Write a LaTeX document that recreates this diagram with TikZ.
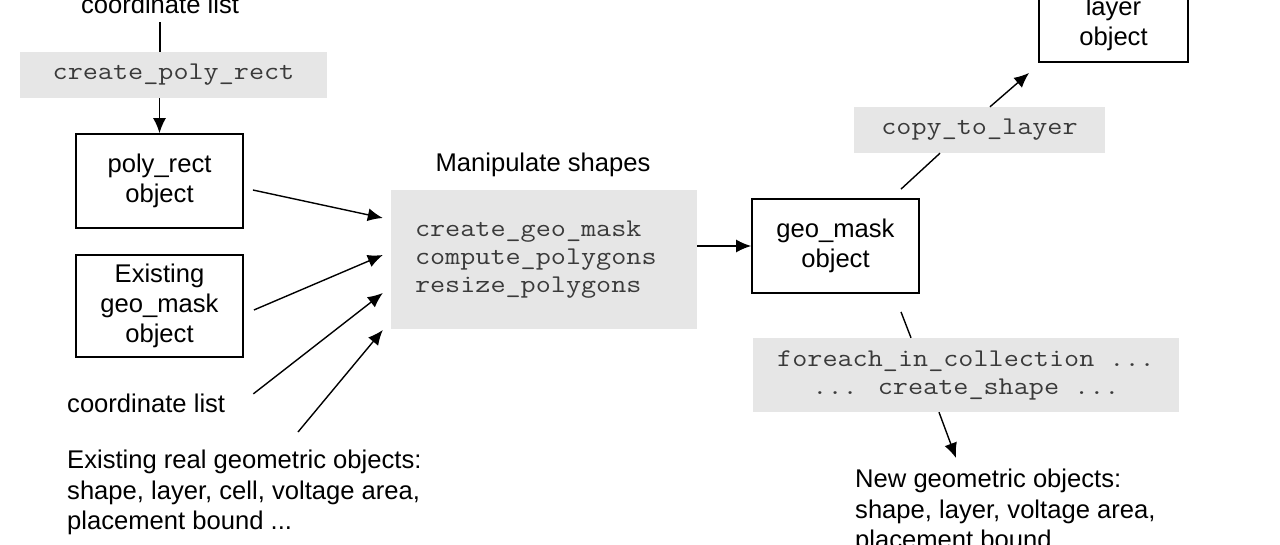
\documentclass[tikz,border=0pt]{standalone}
\usepackage{fontspec}
\usepackage{graphicx}
\setmainfont{Liberation Sans}
\usetikzlibrary{arrows.meta,calc}
\definecolor{boxgray}{HTML}{E6E6E6}
\definecolor{codegray}{HTML}{3A3A3A}
\newcommand{\cdl}[1]{\scalebox{1.15}[1]{#1}}
\tikzset{
 obj/.style={draw=black, line width=1.8pt, align=center, font=\fontsize{25.6}{30}\selectfont, inner sep=0pt},
 code/.style={fill=boxgray, text=codegray, font=\fontsize{25.5}{28}\selectfont\ttfamily, inner sep=0pt},
 lbl/.style={font=\fontsize{25.6}{30.5}\selectfont, inner sep=0pt, align=left},
 conn/.style={line width=1.4pt},
 arr/.style={conn, -{Latex[length=15pt,width=13pt]}},
}
\begin{document}
\begin{tikzpicture}[x=1pt,y=-1pt]
\useasboundingbox (0,0) rectangle (1280,544);
\clip (0,0) rectangle (1280,544);
\fill[white] (0,0) rectangle (1280,544);

\node[lbl, anchor=base] (cl1) at (160,13) {coordinate list};
\node[code, minimum width=307pt, minimum height=46pt] (cpr) at (173.5,75) {\cdl{create\_poly\_rect}};
\node[obj, minimum width=167pt, minimum height=94pt] (pr) at (159.5,181) {poly\_rect\\object};
\node[obj, minimum width=167pt, minimum height=102pt] (ge) at (159.5,306) {Existing\\geo\_mask\\object};
\node[lbl, anchor=base west] (cl2) at (67,412) {coordinate list};
\node[lbl, anchor=north west] (ex) at (67,450) {Existing real geometric objects:\\shape, layer, cell, voltage area,\\placement bound ...};

\node[lbl, anchor=base] (ms) at (543,171) {Manipulate shapes};
\node[code, minimum width=306pt, minimum height=139pt, align=left, text width=258pt, inner xsep=24pt] (mani) at (544,259.5) {\cdl{create\_geo\_mask}\\\cdl{compute\_polygons}\\\cdl{resize\_polygons}};

\node[obj, minimum width=167pt, minimum height=94pt] (gm) at (835.5,246) {geo\_mask\\object};
\node[code, minimum width=251pt, minimum height=46pt] (ct) at (979.5,130) {\cdl{copy\_to\_layer}};
\node[obj, minimum width=149pt, minimum height=77pt] (lo) at (1113.5,23.5) {layer\\object};
\node[code, minimum width=426pt, minimum height=74pt, align=center] (fe) at (966,375) {\cdl{foreach\_in\_collection ...}\\\cdl{... create\_shape ...}};
\node[lbl, anchor=north west] (ng) at (855,469) {New geometric objects:\\shape, layer, voltage area,\\placement bound ...};

\draw[conn] ([shift={(0,9)}]cl1.south) -- (cpr.north -| cl1.south);
\draw[arr] (cpr.south -| pr.north) -- (pr.north);
\draw[arr] ([shift={(9,9)}]pr.east) -- ([shift={(-8,-41.5)}]mani.west);
\draw[arr] ([shift={(10,4)}]ge.east) -- ([shift={(-8,-4.5)}]mani.west);
\draw[arr] ([shift={(28,-9)}]cl2.east) -- ([shift={(-8,33.5)}]mani.west);
\draw[arr] ([shift={(231,-18)}]ex.north west) -- ([shift={(-8,70.5)}]mani.west);
\draw[arr] (mani.east |- gm.west) -- (gm.west);
\draw[conn] ([shift={(65.5,-9)}]gm.north) -- ([shift={(-39.5,0)}]ct.south);
\draw[arr] ([shift={(10.5,0)}]ct.north) -- ([shift={(-9,10)}]lo.south west);
\draw[conn] ([shift={(65.5,18)}]gm.south) -- ([shift={(-55,0)}]fe.north);
\draw[arr] ([shift={(-27,0)}]fe.south) -- ([shift={(101,-11)}]ng.north west);
\end{tikzpicture}
\end{document}
